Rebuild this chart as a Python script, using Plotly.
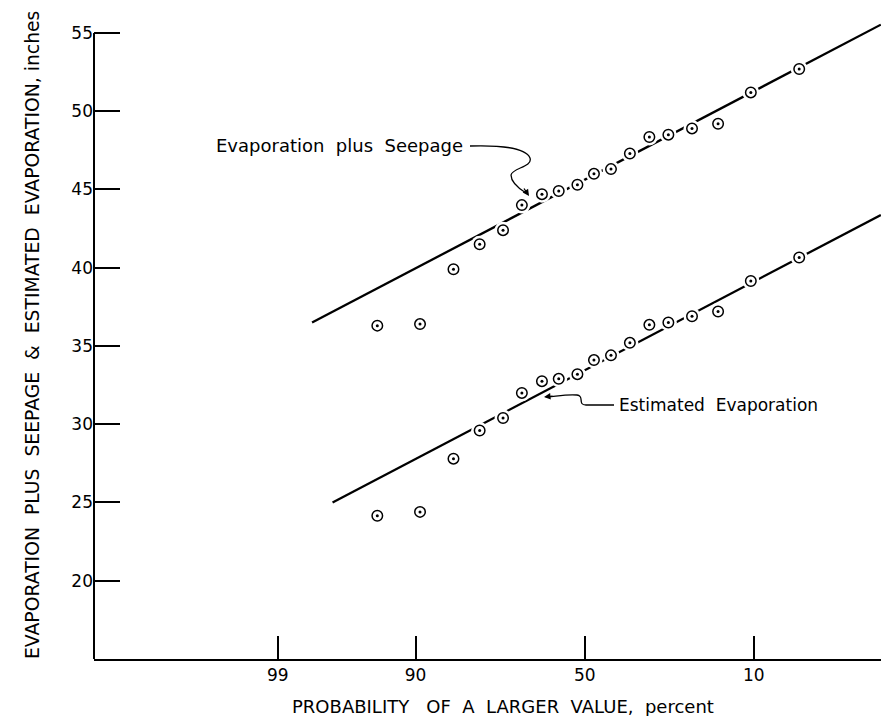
import plotly.graph_objects as go
from statistics import NormalDist

# ---------------- data ----------------
prob_pct = [94.2, 89.4, 84.0, 78.7, 73.2, 68.3, 62.7, 57.8, 52.2,
            47.2, 42.1, 36.6, 31.2, 26.3, 20.8, 15.6, 10.4, 5.2]
evap_plus_seepage = [36.3, 36.4, 39.9, 41.5, 42.4, 44.0, 44.7, 44.9, 45.3,
                     46.0, 46.3, 47.3, 48.35, 48.5, 48.9, 49.2, 51.2, 52.7]
estimated_evap = [24.15, 24.4, 27.8, 29.6, 30.4, 32.0, 32.75, 32.9, 33.2,
                  34.1, 34.4, 35.2, 36.35, 36.5, 36.9, 37.2, 39.15, 40.65]

fit_seep_prob = [98.06, 1.24]
fit_seep_val = [36.5, 55.53]
fit_evap_prob = [97.2, 1.24]
fit_evap_val = [25.0, 43.37]

x_tick_probs = [99, 90, 50, 10]
x_tick_labels = ["99", "90", "50", "10"]
y_ticks = [20, 25, 30, 35, 40, 45, 50, 55]
x_range_prob = [99.99, 1.236]
y_axis_span = [15, 55]
y_range = [15, 55.7]

# ---------------- normal probability scale ----------------
nd = NormalDist()


def zq(p):
    return nd.inv_cdf(1 - p / 100.0)


def zs(ps):
    return [zq(p) for p in ps]


W, H = 881, 716
ML, MR, MT, MB = 94, 0, 22, 57
PW, PH = W - ML - MR, H - MT - MB


def pp(px, py):
    """pixel -> paper coordinates (for decorations only)"""
    return (px - ML) / PW, (H - MB - py) / PH


FONT = "DejaVu Sans"
fig = go.Figure()

for xs, ys in [(fit_seep_prob, fit_seep_val), (fit_evap_prob, fit_evap_val)]:
    fig.add_trace(go.Scatter(x=zs(xs), y=ys, mode="lines",
                             line=dict(color="black", width=2.3),
                             hoverinfo="skip", showlegend=False))

for ys in [evap_plus_seepage, estimated_evap]:
    # white halo that breaks the fitted line around each point
    fig.add_trace(go.Scatter(x=zs(prob_pct), y=ys, mode="markers",
                             marker=dict(size=17, color="white", line=dict(width=0)),
                             hoverinfo="skip", showlegend=False))
for ys in [evap_plus_seepage, estimated_evap]:
    fig.add_trace(go.Scatter(x=zs(prob_pct), y=ys, mode="markers",
                             marker=dict(size=10.5, color="white", symbol="circle",
                                         line=dict(color="black", width=1.5)),
                             showlegend=False))
    fig.add_trace(go.Scatter(x=zs(prob_pct), y=ys, mode="markers",
                             marker=dict(size=3, color="black", line=dict(width=0)),
                             hoverinfo="skip", showlegend=False))

# ---------------- annotations ----------------
annots = []
x0, y0 = pp(339, 145)
annots.append(dict(x=x0, y=y0, xref="paper", yref="paper", showarrow=False,
                   text="Evaporation  plus  Seepage", font=dict(family=FONT, size=18, color="black"),
                   xanchor="center", yanchor="middle"))
x0, y0 = pp(617, 405)
annots.append(dict(x=x0, y=y0, xref="paper", yref="paper", showarrow=False,
                   text="Estimated  Evaporation", font=dict(family=FONT, size=17, color="black"),
                   xanchor="left", yanchor="middle"))
# arrowheads
x0, y0 = pp(529, 196)
annots.append(dict(x=x0, y=y0, xref="paper", yref="paper", text="", showarrow=True,
                   ax=-6, ay=-9, arrowhead=2, arrowsize=1, arrowwidth=1.3, arrowcolor="black"))
x0, y0 = pp(544, 397)
annots.append(dict(x=x0, y=y0, xref="paper", yref="paper", text="", showarrow=True,
                   ax=10, ay=-1, arrowhead=2, arrowsize=1, arrowwidth=1.3, arrowcolor="black"))
# axis titles
x0, y0 = pp(503.5, 706)
annots.append(dict(x=x0, y=y0, xref="paper", yref="paper", showarrow=False,
                   text="PROBABILITY   OF  A  LARGER  VALUE,  percent",
                   font=dict(family=FONT, size=18, color="black"),
                   xanchor="center", yanchor="middle"))
x0, y0 = pp(32, 335)
annots.append(dict(x=x0, y=y0, xref="paper", yref="paper", showarrow=False, textangle=-90,
                   text="EVAPORATION  PLUS  SEEPAGE  &  ESTIMATED  EVAPORATION, inches",
                   font=dict(family=FONT, size=18.8, color="black"),
                   xanchor="center", yanchor="middle"))


def path_px(cmds):
    out = []
    for c in cmds:
        if isinstance(c, str):
            out.append(c)
        else:
            a, b = pp(*c)
            out.append(f"{a:.5f},{b:.5f}")
    return " ".join(out)


shapes = [
    # left axis line (from 15 up to 55 only)
    dict(type="line", xref="paper", yref="y", x0=0, x1=0,
         y0=y_axis_span[0], y1=y_axis_span[1], line=dict(color="black", width=2)),
    dict(type="path", xref="paper", yref="paper",
         path=path_px(["M", (470, 146), "C", (500, 145), (526, 148), (530, 158),
                       "C", (533, 167), (512, 168), (511, 175),
                       "C", (511, 182), (518, 188), (526, 193)]),
         line=dict(color="black", width=1.3)),
    dict(type="path", xref="paper", yref="paper",
         path=path_px(["M", (614, 405), "L", (586, 405),
                       "C", (577, 405), (585, 396), (577, 395),
                       "C", (568, 394), (558, 396), (548, 397)]),
         line=dict(color="black", width=1.3)),
]

fig.update_layout(
    width=W, height=H,
    margin=dict(l=ML, r=MR, t=MT, b=MB, pad=0),
    paper_bgcolor="white", plot_bgcolor="white",
    showlegend=False,
    annotations=annots, shapes=shapes,
    font=dict(family=FONT, color="black"),
    xaxis=dict(range=[zq(x_range_prob[0]), zq(x_range_prob[1])],
               tickvals=zs(x_tick_probs), ticktext=x_tick_labels,
               ticks="inside", ticklen=23, tickwidth=1.6, tickcolor="black",
               showline=True, linecolor="black", linewidth=2,
               showgrid=False, zeroline=False,
               tickfont=dict(family=FONT, size=17, color="black")),
    yaxis=dict(range=y_range, tickvals=y_ticks,
               ticks="inside", ticklen=26, tickwidth=1.6, tickcolor="black",
               showline=False,
               showgrid=False, zeroline=False,
               tickfont=dict(family=FONT, size=17, color="black")),
)

fig.write_html("out.html")
